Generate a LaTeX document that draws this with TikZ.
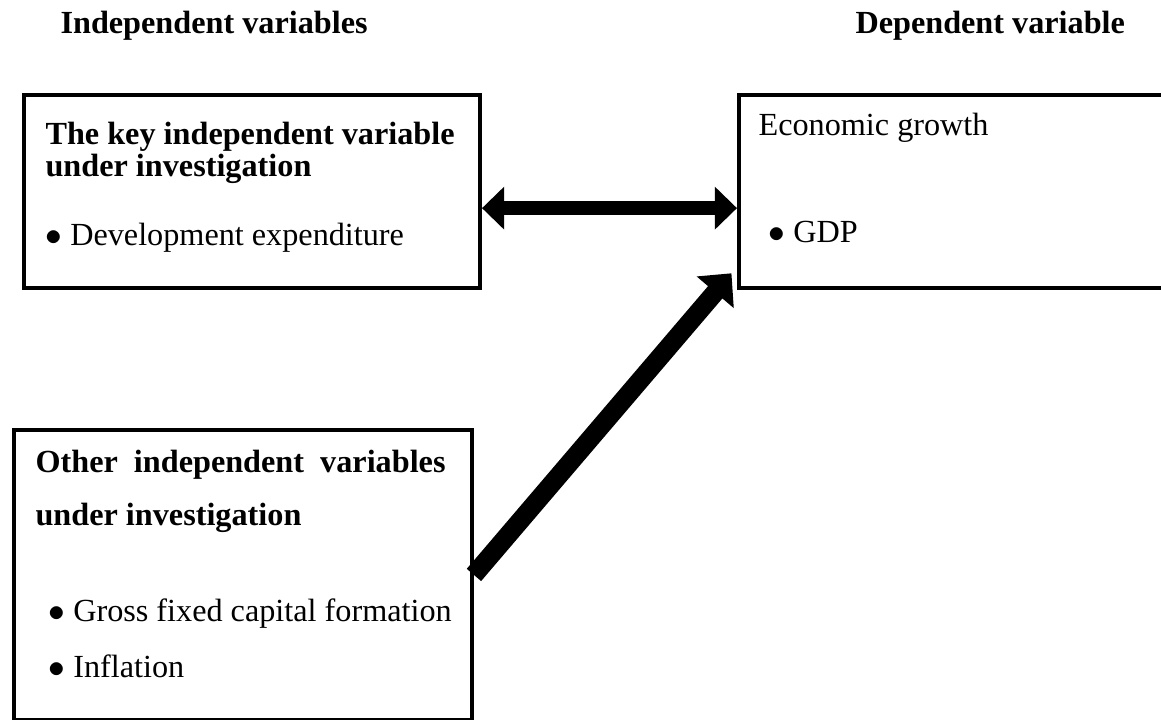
\documentclass[tikz,border=0pt]{standalone}
\usepackage{fontspec}
\setmainfont{Liberation Serif}
\usepackage{tikz}
\usetikzlibrary{arrows.meta, positioning}
\newcommand{\bul}{$\bullet$\ }

\begin{document}
\begin{tikzpicture}[x=0.36pt, y=-0.36pt,
  varbox/.style={draw, line width=1.4pt, inner sep=0pt, anchor=north west},
  boxtext/.style={anchor=base west, inner sep=0pt, font=\fontsize{11.6}{14}\selectfont},
  headtext/.style={boxtext, font=\fontsize{11.6}{14}\selectfont\bfseries},
  fatarrow/.style={line width=5pt}]
  \useasboundingbox (0,0) rectangle (1161,720);
  % column headings
  \node[headtext] (indep) at (60,34) {Independent variables};
  \node[headtext] (dep) at (855,34) {Dependent variable};
  % the three boxes
  \node[varbox, minimum width=164.2pt, minimum height=69.5pt] (key) at (22,93) {};
  \node[varbox, minimum width=160pt, minimum height=69.5pt] (growth) at (737,93) {};
  \node[varbox, minimum width=164.9pt, minimum height=104.4pt] (other) at (12,428) {};
  % texts in the boxes
  \node[headtext] (keyhead) at (45,145) {The key independent variable};
  \node[headtext] (keyunder) at (45,177) {under investigation};
  \node[boxtext] (devexp) at (45,246) {\bul Development expenditure};
  \node[boxtext] (econ) at (758,136) {Economic growth};
  \node[boxtext] (gdp) at (768,243) {\bul GDP};
  \node[headtext] (otherhead) at (35,473) {\makebox[147.6pt][s]{Other independent variables}};
  \node[headtext] (otherunder) at (35,525) {under investigation};
  \node[boxtext] (gfcf) at (48,621) {\bul Gross fixed capital formation};
  \node[boxtext] (infl) at (48,677) {\bul Inflation};
  % arrows
  \draw[fatarrow, {Triangle[length=8pt,width=15pt]}-{Triangle[length=8pt,width=15pt]}]
    ([yshift=-6pt]key.east) -- ([yshift=-6pt]growth.west);
  \draw[fatarrow, line width=6.8pt, -{Triangle[length=9pt,width=17pt]}]
    (other.east) -- ([xshift=-2pt,yshift=6pt]growth.south west);
\end{tikzpicture}
\end{document}
